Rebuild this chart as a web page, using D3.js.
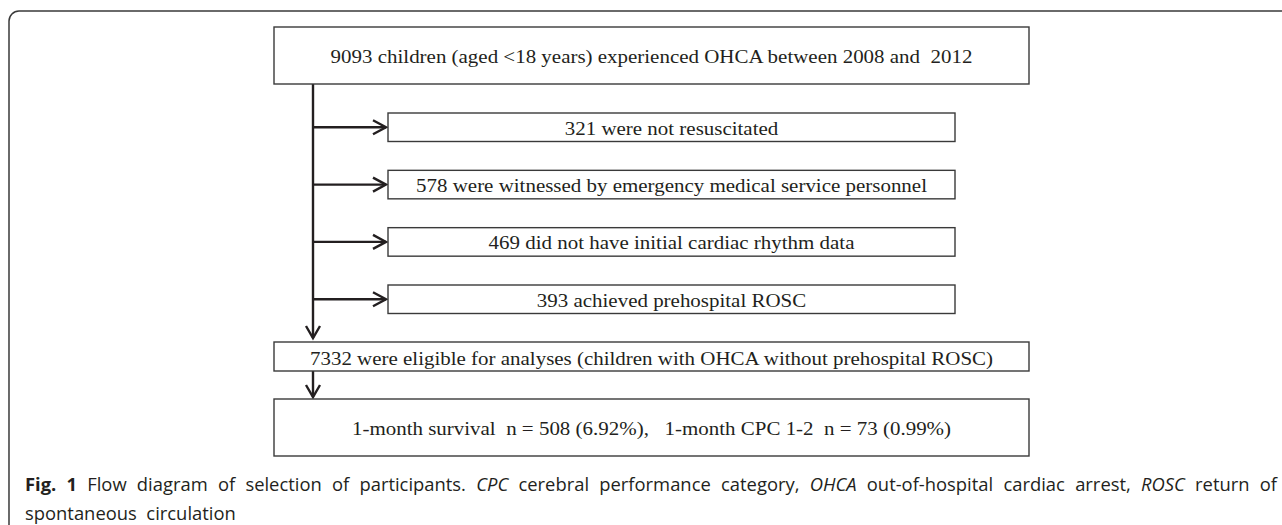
<!DOCTYPE html>
<html>
<head>
<meta charset="utf-8">
<script src="https://cdn.jsdelivr.net/npm/d3@7"></script>
<style>
  body { margin: 0; background: #fff; }
  svg { display: block; }
  text { white-space: pre; }
</style>
</head>
<body>
<div class="chart"></div>
<script>
// flow steps, top to bottom
const startLabel = "9093 children (aged <18 years) experienced OHCA between 2008 and  2012";
const exclusionLabels = [
    "321 were not resuscitated",
    "578 were witnessed by emergency medical service personnel",
    "469 did not have initial cardiac rhythm data",
    "393 achieved prehospital ROSC"
];
const eligibleLabel = "7332 were eligible for analyses (children with OHCA without prehospital ROSC)";
const outcomeLabel = "1-month survival  n = 508 (6.92%),   1-month CPC 1-2  n = 73 (0.99%)";

// caption words, style: b = bold, i = italic
const captionWords = [
    ["Fig.", "b"], ["1", "b"], ["Flow", ""], ["diagram", ""], ["of", ""], ["selection", ""],
    ["of", ""], ["participants.", ""], ["CPC", "i"], ["cerebral", ""], ["performance", ""],
    ["category,", ""], ["OHCA", "i"], ["out-of-hospital", ""], ["cardiac", ""], ["arrest,", ""],
    ["ROSC", "i"], ["return", ""], ["of", ""]
];
const captionTail = "spontaneous  circulation";

const width = 1282, height = 525;
const ink = "#231f20";
const serif = "'Liberation Serif', 'Times New Roman', serif";
const sans = "'Open Sans', 'Noto Sans', sans-serif";

const svg = d3.select(".chart").append("svg")
    .attr("width", width)
    .attr("height", height);

// outer panel, open to the right and bottom
svg.append("rect")
    .attr("x", 9).attr("y", 11)
    .attr("width", 1400).attr("height", 700)
    .attr("rx", 10)
    .attr("fill", "none")
    .attr("stroke", "#3a3a3a")
    .attr("stroke-width", 1.5);

// layout
const trunkX = 313;
const mainX = [274, 1029];
const sideX = [388, 955];
const sideH = 28.5;
const sideY = d3.scalePoint().domain(exclusionLabels).range([113, 285]);

const mainBoxes = [
    {label: startLabel, y0: 27, y1: 84},
    {label: eligibleLabel, y0: 342, y1: 371},
    {label: outcomeLabel, y0: 399, y1: 456}
];

// source type is a narrow Times: keep its height, squeeze width to match
const fs = 19.5;
const probe = svg.append("text").attr("font-family", serif).attr("font-size", fs).text(startLabel);
const sx = 642 / probe.node().getComputedTextLength();
probe.remove();

const box = (g, x0, x1, y0, y1, label, dy) => {
    g.append("rect")
        .attr("x", x0).attr("y", y0)
        .attr("width", x1 - x0).attr("height", y1 - y0)
        .attr("fill", "#fff")
        .attr("stroke", "#3a3a3a")
        .attr("stroke-width", 1.4);
    g.append("text")
        .attr("transform", `translate(${(x0 + x1) / 2},${(y0 + y1) / 2 + dy}) scale(${sx},1)`)
        .attr("text-anchor", "middle")
        .attr("font-family", serif)
        .attr("font-size", fs)
        .attr("fill", ink)
        .text(label);
};

const line = d3.line();
const arrows = svg.append("g")
    .attr("fill", "none")
    .attr("stroke", ink)
    .attr("stroke-width", 2.4)
    .attr("stroke-linejoin", "miter");

const downArrow = (x, y0, y1) => {
    arrows.append("path").attr("d", line([[x, y0], [x, y1]]));
    arrows.append("path").attr("d", line([[x - 7, y1 - 12], [x, y1], [x + 7, y1 - 12]]));
};
const rightArrow = (x0, x1, y) => {
    arrows.append("path").attr("d", line([[x0, y], [x1, y]]));
    arrows.append("path").attr("d", line([[x1 - 13, y - 7], [x1, y], [x1 - 13, y + 7]]));
};

downArrow(trunkX, mainBoxes[0].y1, mainBoxes[1].y0 - 4);
downArrow(trunkX, mainBoxes[1].y1, mainBoxes[2].y0 - 2);
exclusionLabels.forEach(d => rightArrow(trunkX, sideX[0] - 2, sideY(d) + sideH / 2));

const boxes = svg.append("g");
mainBoxes.forEach((b, i) => box(boxes, mainX[0], mainX[1], b.y0, b.y1, b.label, i === 1 ? 8.5 : 7.5));
exclusionLabels.forEach(d => box(boxes, sideX[0], sideX[1], sideY(d), sideY(d) + sideH, d, 7.5));

// caption, also a condensed face in the source
const cfs = 17.5;
const cap = svg.append("g").attr("font-family", sans).attr("fill", ink);
const tailProbe = cap.append("text").attr("font-size", cfs).text(captionTail);
const csx = 211 / tailProbe.node().getComputedTextLength();
tailProbe.remove();

const capX0 = 25, capX1 = 1277;
const words = captionWords.map(([t, s]) => {
    const el = cap.append("text")
        .attr("font-size", cfs)
        .attr("font-weight", s === "b" ? 700 : 400)
        .attr("font-style", s === "i" ? "italic" : "normal")
        .text(t);
    return {el, w: el.node().getComputedTextLength() * csx};
});
const gap = (capX1 - capX0 - d3.sum(words, d => d.w)) / (words.length - 1);
let cx = capX0;
words.forEach(d => {
    d.el.attr("transform", `translate(${cx},491) scale(${csx},1)`);
    cx += d.w + gap;
});

cap.append("text")
    .attr("transform", `translate(${capX0},520) scale(${csx},1)`)
    .attr("font-size", cfs)
    .text(captionTail);
</script>
</body>
</html>
